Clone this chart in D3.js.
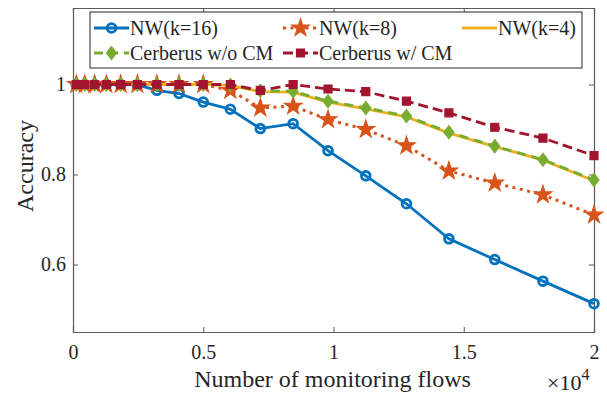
<!DOCTYPE html>
<html>
<head>
<meta charset="utf-8">
<script src="https://cdn.jsdelivr.net/npm/d3@7"></script>
<style>
  body { margin: 0; background: #fff; }
  text { font-family: "Liberation Serif", "Times New Roman", serif; fill: #262626; }
</style>
</head>
<body>
<div id="chart"></div>
<script>
// number of monitoring flows (x 10^4 on the axis)
const flows = [128, 450, 830, 1280, 1830, 2470, 3220, 4070, 5000, 6040, 7190, 8450, 9790, 11240, 12800, 14430, 16190, 18040, 20000];

const nw16 = [1, 1, 1, 1, 1, 0.999, 0.987, 0.98, 0.961, 0.945, 0.902, 0.913, 0.853, 0.797, 0.735, 0.657, 0.611, 0.563, 0.513];
const nw8 = [1, 1, 1, 1, 1, 1, 1, 1, 1, 0.987, 0.948, 0.952, 0.922, 0.9, 0.864, 0.808, 0.781, 0.755, 0.71];
const nw4 = [1, 1, 1, 1, 1, 1, 1, 1, 1, 0.998, 0.984, 0.983, 0.961, 0.946, 0.928, 0.892, 0.862, 0.832, 0.786];
const cerbNoCM = [1, 1, 1, 1, 1, 1, 1, 1, 1, 0.999, 0.986, 0.985, 0.963, 0.948, 0.93, 0.894, 0.863, 0.833, 0.788];
const cerbCM = [1, 1, 1, 1, 1, 1, 1, 1, 1, 1, 0.987, 1, 0.99, 0.984, 0.963, 0.937, 0.905, 0.881, 0.842];

const xTicks = [0, 5000, 10000, 15000, 20000];
const xTickLabels = ["0", "0.5", "1", "1.5", "2"];
const yTicks = [0.6, 0.8, 1];
const yTickLabels = ["0.6", "0.8", "1"];

const series = [
  { name: "NW(k=16)", values: nw16, color: "#0072BD", dash: null, marker: "circle" },
  { name: "NW(k=8)", values: nw8, color: "#D95319", dash: "3,4.5", marker: "star" },
  { name: "NW(k=4)", values: nw4, color: "#EDB120", dash: null, marker: null },
  { name: "Cerberus w/o CM", values: cerbNoCM, color: "#77AC30", dash: "9,6", marker: "diamond" },
  { name: "Cerberus w/ CM", values: cerbCM, color: "#A2142F", dash: "10,5", marker: "square" }
];

const serif = '"Liberation Serif", "Times New Roman", serif';

const W = 607, H = 394;
const margin = { top: 8, right: 13, bottom: 62, left: 73 };
const width = W - margin.left - margin.right,
      height = H - margin.top - margin.bottom;

const svg = d3.select("#chart").append("svg")
    .attr("width", W)
    .attr("height", H);
const g = svg.append("g")
    .attr("transform", `translate(${margin.left},${margin.top})`);

const x = d3.scaleLinear().domain([0, 20000]).range([0, width]);
const y = d3.scaleLinear().domain([0.45, 1.17]).range([height, 0]);

const axisColor = "#5a5a5a";

// axes with box, ticks inside
const xAxis = g.append("g")
    .attr("transform", `translate(0,${height})`)
    .call(d3.axisBottom(x).tickValues(xTicks).tickSize(-5).tickPadding(13)
        .tickFormat((d, i) => xTickLabels[i]));
const xTop = g.append("g")
    .call(d3.axisTop(x).tickValues(xTicks).tickSize(-5).tickFormat(""));
const yAxis = g.append("g")
    .call(d3.axisLeft(y).tickValues(yTicks).tickSize(-5).tickPadding(7)
        .tickFormat((d, i) => yTickLabels[i]));
const yRight = g.append("g")
    .attr("transform", `translate(${width},0)`)
    .call(d3.axisRight(y).tickValues(yTicks).tickSize(-5).tickFormat(""));

[xAxis, xTop, yAxis, yRight].forEach(a => {
  a.attr("font-family", serif);
  a.select(".domain").attr("stroke", axisColor).attr("stroke-width", 1.2);
  a.selectAll(".tick line").attr("stroke", axisColor);
  a.selectAll(".tick text").style("font-size", "20px").attr("fill", "#262626")
    .style("font-family", serif);
});

const line = d3.line()
    .x((d, i) => x(flows[i]))
    .y(d => y(d));

function markerPath(type) {
  if (type === "circle") return d3.symbol(d3.symbolCircle, 60)();
  if (type === "star") return d3.symbol(d3.symbolStar, 95)();
  if (type === "square") return d3.symbol(d3.symbolSquare, 64)();
  if (type === "diamond") return "M0,-6.5L5,0L0,6.5L-5,0Z";
  return null;
}

function drawMarker(sel, s) {
  const p = markerPath(s.marker);
  if (!p) return;
  const m = sel.append("path").attr("d", p);
  if (s.marker === "circle") {
    m.attr("fill", "none").attr("stroke", s.color).attr("stroke-width", 2.8);
  } else {
    m.attr("fill", s.color).attr("stroke", s.color).attr("stroke-width", 1.2);
  }
}

series.forEach(s => {
  const sg = g.append("g");
  sg.append("path")
      .datum(s.values)
      .attr("fill", "none")
      .attr("stroke", s.color)
      .attr("stroke-width", s.marker === "star" ? 3 : 2.8)
      .attr("stroke-dasharray", s.dash)
      .attr("d", line);
  if (s.marker) {
    s.values.forEach((v, i) => {
      const mg = sg.append("g").attr("transform", `translate(${x(flows[i])},${y(v)})`);
      drawMarker(mg, s);
    });
  }
});

// legend
const legend = g.append("g").attr("transform", `translate(${90 - margin.left},${12 - margin.top})`);
legend.append("rect")
    .attr("width", 492).attr("height", 56)
    .attr("fill", "#fff").attr("stroke", "#262626").attr("stroke-width", 1);
const legendPos = [
  { x: 4, y: 16 }, { x: 193, y: 16 }, { x: 372, y: 16 },
  { x: 4, y: 41 }, { x: 193, y: 41 }
];
series.forEach((s, i) => {
  const p = legendPos[i];
  const lg = legend.append("g").attr("transform", `translate(${p.x},${p.y})`);
  lg.append("line")
      .attr("x1", 0).attr("x2", 35)
      .attr("stroke", s.color)
      .attr("stroke-width", 2.8)
      .attr("stroke-dasharray", s.dash);
  const mg = lg.append("g").attr("transform", "translate(17.5,0)");
  drawMarker(mg, s);
  lg.append("text")
      .attr("x", 36).attr("y", 6.5)
      .style("font-family", serif)
      .style("font-size", "20px")
      .text(s.name);
});

// axis labels
g.append("text")
    .attr("x", width / 2 - 1).attr("y", 387 - margin.top)
    .attr("text-anchor", "middle")
    .style("font-family", serif)
    .style("font-size", "24px")
    .text("Number of monitoring flows");

const exp = g.append("text")
    .attr("x", 547 - margin.left).attr("y", 390 - margin.top)
    .style("font-family", serif)
    .style("font-size", "22px");
exp.append("tspan").text("\u00d710");
exp.append("tspan").attr("dy", -10).style("font-size", "16px").text("4");

g.append("text")
    .attr("transform", `translate(${33 - margin.left},${166 - margin.top}) rotate(-90)`)
    .attr("text-anchor", "middle")
    .style("font-family", serif)
    .style("font-size", "24px")
    .text("Accuracy");
</script>
</body>
</html>
